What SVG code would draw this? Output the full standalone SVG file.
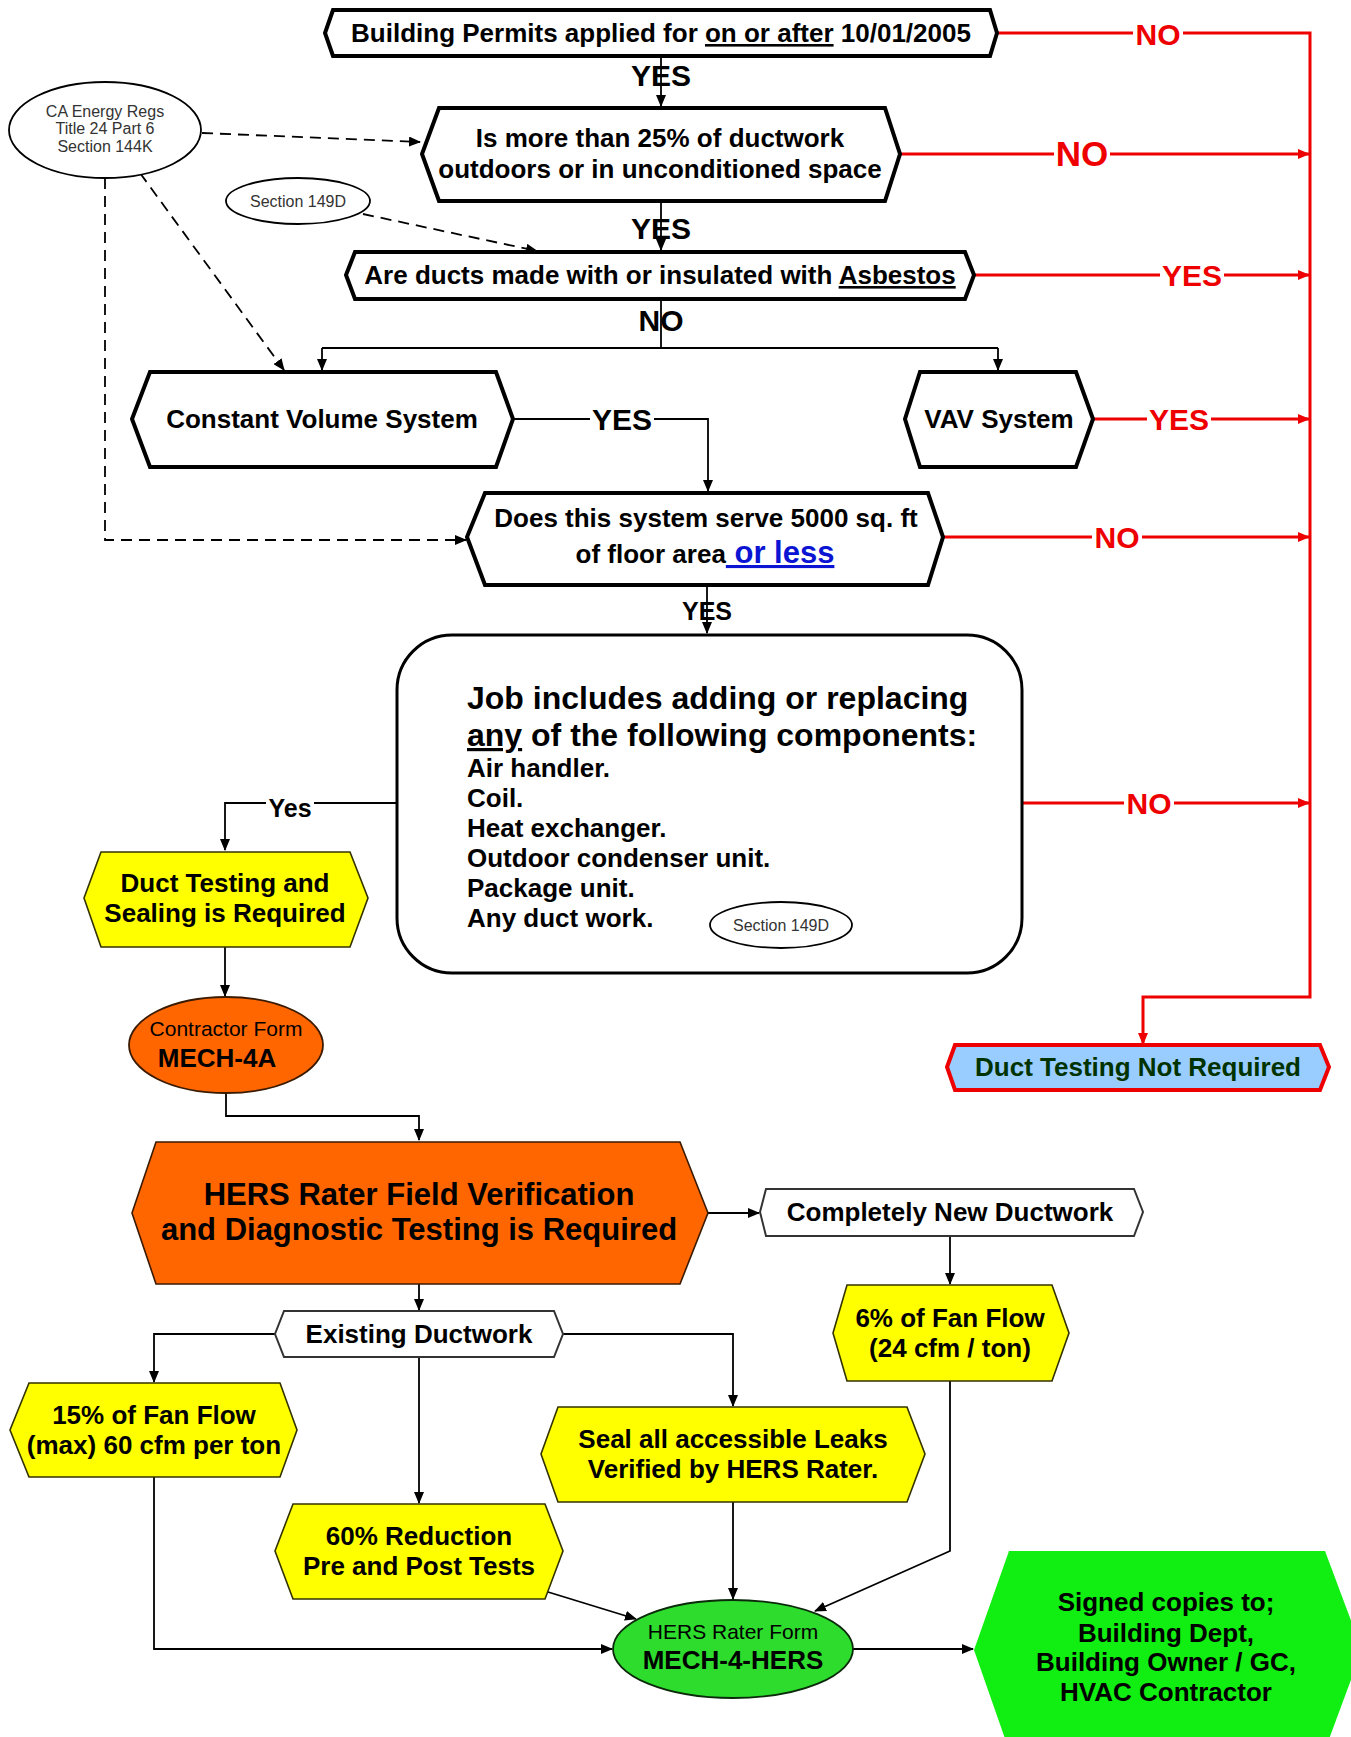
<svg xmlns="http://www.w3.org/2000/svg" width="1351" height="1737" viewBox="0 0 1351 1737">
<style>
text{font-family:"Liberation Sans",Arial,Helvetica,sans-serif;font-weight:bold;font-size:26px;text-anchor:middle;fill:#000}
.thick{fill:#fff;stroke:#000;stroke-width:4;stroke-linejoin:miter}
.yel{fill:#ffff00;stroke:#333300;stroke-width:1.6}
.wht{fill:#fff;stroke:#333;stroke-width:2}
.org{fill:#ff6600;stroke:#3a1a00;stroke-width:1.6}
.conn{fill:none;stroke:#000;stroke-width:1.8}
.red{fill:none;stroke:#ee0000;stroke-width:3}
.dash{fill:none;stroke:#000;stroke-width:1.8;stroke-dasharray:11 7}
.lbl{font-size:30px}
.bg{fill:#fff;stroke:none}
.rl{fill:#ee0000;font-size:30px}
.reg{font-weight:normal;font-size:16px;fill:#333}
.ul{text-decoration:underline}
</style>
<defs>
<marker id="ab" markerUnits="userSpaceOnUse" markerWidth="12" markerHeight="10" refX="11" refY="5" orient="auto"><path d="M0,0 L12,5 L0,10 z" fill="#000"/></marker>
<marker id="ar" markerUnits="userSpaceOnUse" markerWidth="12" markerHeight="10" refX="11" refY="5" orient="auto"><path d="M0,0 L12,5 L0,10 z" fill="#ee0000"/></marker>
</defs>

<g id="connectors">
<line class="conn" x1="661" y1="56" x2="661" y2="106" marker-end="url(#ab)"/>
<line class="conn" x1="661" y1="201" x2="661" y2="250" marker-end="url(#ab)"/>
<path class="conn" d="M661,299 V348"/>
<path class="conn" d="M322,348 H998"/>
<line class="conn" x1="322" y1="348" x2="322" y2="370" marker-end="url(#ab)"/>
<line class="conn" x1="998" y1="348" x2="998" y2="370" marker-end="url(#ab)"/>
<path class="conn" d="M513,419 H708 V491" marker-end="url(#ab)"/>
<line class="conn" x1="707" y1="585" x2="707" y2="633" marker-end="url(#ab)"/>
<path class="conn" d="M396,803 H225 V850" marker-end="url(#ab)"/>
<line class="conn" x1="225" y1="947" x2="225" y2="996" marker-end="url(#ab)"/>
<path class="conn" d="M226,1093 V1116 H419 V1140" marker-end="url(#ab)"/>
<line class="conn" x1="708" y1="1213" x2="759" y2="1213" marker-end="url(#ab)"/>
<line class="conn" x1="950" y1="1236" x2="950" y2="1284" marker-end="url(#ab)"/>
<path class="conn" d="M950,1381 V1551 L815,1611" marker-end="url(#ab)"/>
<line class="conn" x1="419" y1="1284" x2="419" y2="1310" marker-end="url(#ab)"/>
<path class="conn" d="M275,1334 H154 V1382" marker-end="url(#ab)"/>
<path class="conn" d="M563,1334 H733 V1406" marker-end="url(#ab)"/>
<line class="conn" x1="419" y1="1357" x2="419" y2="1503" marker-end="url(#ab)"/>
<path class="conn" d="M154,1477 V1649 H612" marker-end="url(#ab)"/>
<line class="conn" x1="548" y1="1592" x2="636" y2="1619" marker-end="url(#ab)"/>
<line class="conn" x1="733" y1="1502" x2="733" y2="1599" marker-end="url(#ab)"/>
<line class="conn" x1="853" y1="1649" x2="973" y2="1649" marker-end="url(#ab)"/>

<line class="dash" x1="202" y1="133" x2="420" y2="142" marker-end="url(#ab)"/>
<line class="dash" x1="363" y1="214" x2="537" y2="251" marker-end="url(#ab)"/>
<line class="dash" x1="140" y1="173" x2="284" y2="370" marker-end="url(#ab)"/>
<path class="dash" d="M105,178 V540 H466" marker-end="url(#ab)"/>

<path class="red" d="M997,33 H1310 V997 H1143 V1044" marker-end="url(#ar)"/>
<line class="red" x1="900" y1="154" x2="1309" y2="154" marker-end="url(#ar)"/>
<line class="red" x1="974" y1="275" x2="1309" y2="275" marker-end="url(#ar)"/>
<line class="red" x1="1093" y1="419" x2="1309" y2="419" marker-end="url(#ar)"/>
<line class="red" x1="943" y1="537" x2="1309" y2="537" marker-end="url(#ar)"/>
<line class="red" x1="1022" y1="803" x2="1309" y2="803" marker-end="url(#ar)"/>

<rect class="bg" x="1133" y="24" width="50" height="18"/>
<rect class="bg" x="1054" y="144" width="56" height="20"/>
<rect class="bg" x="1160" y="266" width="64" height="18"/>
<rect class="bg" x="1147" y="410" width="64" height="18"/>
<rect class="bg" x="1092" y="528" width="50" height="18"/>
<rect class="bg" x="1124" y="794" width="50" height="18"/>
<rect class="bg" x="590" y="410" width="64" height="18"/>
<rect class="bg" x="266" y="795" width="48" height="16"/>

<text class="lbl" x="661" y="86">YES</text>
<text class="lbl" x="661" y="239">YES</text>
<text class="lbl" x="661" y="331">NO</text>
<text class="lbl" x="622" y="430">YES</text>
<text x="707" y="620" style="font-size:25px">YES</text>
<text x="290" y="817" style="font-size:25px">Yes</text>
<text class="rl" x="1158" y="45">NO</text>
<text class="rl" x="1082" y="166" style="font-size:35px">NO</text>
<text class="rl" x="1192" y="286">YES</text>
<text class="rl" x="1179" y="430">YES</text>
<text class="rl" x="1117" y="548">NO</text>
<text class="rl" x="1149" y="814">NO</text>
</g>

<g id="n-permits">
<polygon class="thick" points="333,10 990,10 997,33 990,56 333,56 325,33"/>
<text x="661" y="42">Building Permits applied for <tspan class="ul">on or after</tspan> 10/01/2005</text>
</g>

<g id="n-ca-regs">
<ellipse cx="105" cy="130" rx="96" ry="48" fill="#fff" stroke="#000" stroke-width="1.8"/>
<text class="reg" x="105" y="117">CA Energy Regs</text>
<text class="reg" x="105" y="134">Title 24 Part 6</text>
<text class="reg" x="105" y="152">Section 144K</text>
</g>

<g id="n-sec149d-a">
<ellipse cx="298" cy="201" rx="72" ry="23" fill="#fff" stroke="#000" stroke-width="1.8"/>
<text class="reg" x="298" y="207">Section 149D</text>
</g>

<g id="n-ductwork25">
<polygon class="thick" points="439,108 885,108 900,154 885,201 439,201 422,154"/>
<text x="660" y="147">Is more than 25% of ductwork</text>
<text x="660" y="178">outdoors or in unconditioned space</text>
</g>

<g id="n-asbestos">
<polygon class="thick" points="355,252 965,252 974,275 965,299 355,299 346,275"/>
<text x="660" y="284">Are ducts made with or insulated with <tspan class="ul">Asbestos</tspan></text>
</g>

<g id="n-cv">
<polygon class="thick" points="150,372 496,372 513,419 496,467 150,467 132,419"/>
<text x="322" y="428">Constant Volume System</text>
</g>

<g id="n-vav">
<polygon class="thick" points="920,372 1076,372 1093,419 1076,467 920,467 905,419"/>
<text x="999" y="428">VAV System</text>
</g>

<g id="n-5000">
<polygon class="thick" points="485,493 928,493 943,537 928,585 485,585 467,537"/>
<text x="706" y="527">Does this system serve 5000 sq. ft</text>
<text x="705" y="563">of floor area<tspan class="ul" style="fill:#0a14d2;font-size:31px"> or less</tspan></text>
</g>

<g id="n-job">
<rect x="397" y="635" width="625" height="338" rx="55" ry="55" fill="#fff" stroke="#000" stroke-width="3"/>
<text x="467" y="709" style="text-anchor:start;font-size:32px">Job includes adding or replacing</text>
<text x="467" y="746" style="text-anchor:start;font-size:32px"><tspan class="ul">any</tspan> of the following components:</text>
<text x="467" y="777" style="text-anchor:start">Air handler.</text>
<text x="467" y="807" style="text-anchor:start">Coil.</text>
<text x="467" y="837" style="text-anchor:start">Heat exchanger.</text>
<text x="467" y="867" style="text-anchor:start">Outdoor condenser unit.</text>
<text x="467" y="897" style="text-anchor:start">Package unit.</text>
<text x="467" y="927" style="text-anchor:start">Any duct work.</text>
</g>

<g id="n-sec149d-b">
<ellipse cx="781" cy="925" rx="71" ry="23" fill="#fff" stroke="#000" stroke-width="1.8"/>
<text class="reg" x="781" y="931">Section 149D</text>
</g>

<g id="n-not-required">
<polygon points="955,1045 1320,1045 1329,1067 1320,1090 955,1090 947,1067" fill="#99ccff" stroke="#ee0000" stroke-width="4"/>
<text x="1138" y="1076" style="fill:#003300">Duct Testing Not Required</text>
</g>

<g id="n-sealing-required">
<polygon class="yel" points="101,852 350,852 368,898 350,947 101,947 84,898"/>
<text x="225" y="892">Duct Testing and</text>
<text x="225" y="922">Sealing is Required</text>
</g>

<g id="n-mech4a">
<ellipse cx="226" cy="1045" rx="97" ry="48" fill="#ff6600" stroke="#3a1a00" stroke-width="1.8"/>
<text x="226" y="1036" style="font-weight:normal;font-size:21px">Contractor Form</text>
<text x="217" y="1067">MECH-4A</text>
</g>

<g id="n-hers">
<polygon class="org" points="156,1142 680,1142 708,1213 680,1284 156,1284 132,1213"/>
<text x="419" y="1205" style="font-size:31px">HERS Rater Field Verification</text>
<text x="419" y="1240" style="font-size:31px">and Diagnostic Testing is Required</text>
</g>

<g id="n-new-ductwork">
<polygon class="wht" points="766,1189 1134,1189 1143,1212 1134,1236 766,1236 760,1212"/>
<text x="950" y="1221">Completely New Ductwork</text>
</g>

<g id="n-6pct">
<polygon class="yel" points="847,1285 1052,1285 1069,1333 1052,1381 847,1381 833,1333"/>
<text x="950" y="1327">6% of Fan Flow</text>
<text x="950" y="1357">(24 cfm / ton)</text>
</g>

<g id="n-existing">
<polygon class="wht" points="284,1311 554,1311 563,1334 554,1357 284,1357 275,1334"/>
<text x="419" y="1343">Existing Ductwork</text>
</g>

<g id="n-15pct">
<polygon class="yel" points="29,1383 280,1383 297,1430 280,1477 29,1477 10,1430"/>
<text x="154" y="1424">15% of Fan Flow</text>
<text x="154" y="1454">(max) 60 cfm per ton</text>
</g>

<g id="n-60pct">
<polygon class="yel" points="293,1504 545,1504 563,1551 545,1599 293,1599 275,1551"/>
<text x="419" y="1545">60% Reduction</text>
<text x="419" y="1575">Pre and Post Tests</text>
</g>

<g id="n-seal">
<polygon class="yel" points="558,1407 907,1407 925,1454 907,1502 558,1502 541,1454"/>
<text x="733" y="1448">Seal all accessible Leaks</text>
<text x="733" y="1478">Verified by HERS Rater.</text>
</g>

<g id="n-mech4hers">
<ellipse cx="733" cy="1649" rx="120" ry="49" fill="#2edc2e" stroke="#0a2a0a" stroke-width="1.8"/>
<text x="733" y="1639" style="font-weight:normal;font-size:21px">HERS Rater Form</text>
<text x="733" y="1669">MECH-4-HERS</text>
</g>

<g id="n-signed">
<polygon points="1009,1551 1325,1551 1362,1650 1325,1750 1009,1750 974,1650" fill="#11ee11"/>
<text x="1166" y="1611">Signed copies to;</text>
<text x="1166" y="1642">Building Dept,</text>
<text x="1166" y="1671">Building Owner / GC,</text>
<text x="1166" y="1701">HVAC Contractor</text>
</g>
</svg>
